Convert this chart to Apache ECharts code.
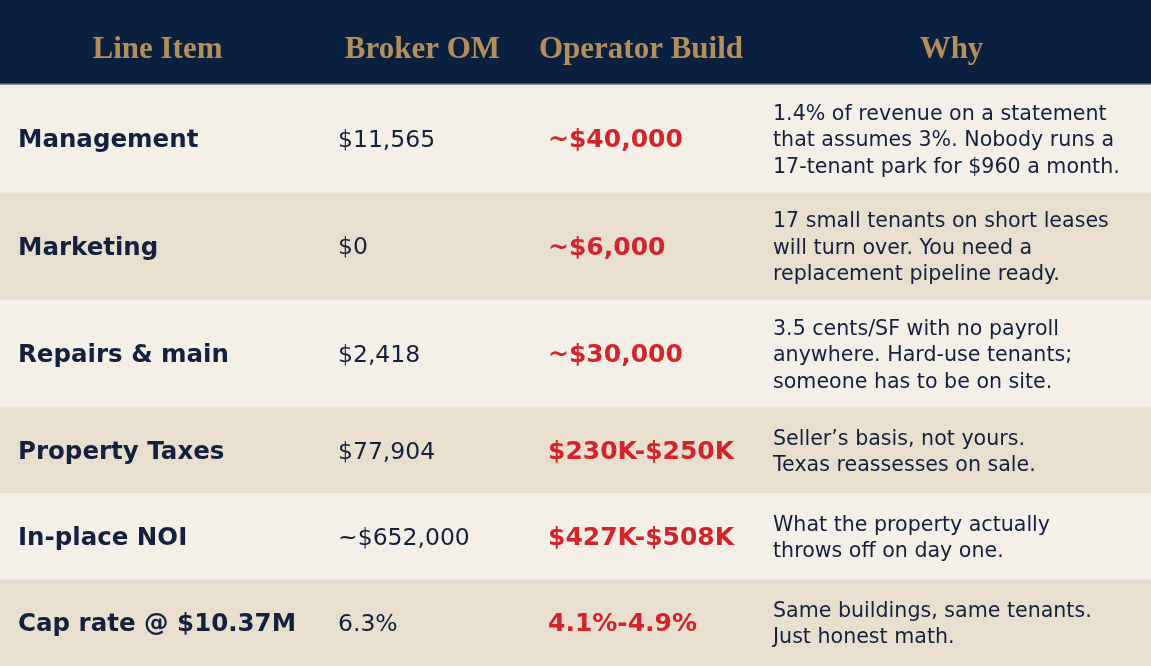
<!DOCTYPE html>
<html>
<head>
<meta charset="utf-8">
<script src="https://cdn.jsdelivr.net/npm/echarts@6/dist/echarts.min.js"></script>
<style>
  html, body { margin: 0; padding: 0; background: #f4efe7; }
  #chart { width: 1151px; height: 666px; }
</style>
</head>
<body>
<div id="chart"></div>
<script>
// table content
const headers = ['Line Item', 'Broker OM', 'Operator Build', 'Why'];
const lineItems = ['Management', 'Marketing', 'Repairs & main', 'Property Taxes', 'In-place NOI', 'Cap rate @ $10.37M'];
const brokerOM = ['$11,565', '$0', '$2,418', '$77,904', '~$652,000', '6.3%'];
const operatorBuild = ['~$40,000', '~$6,000', '~$30,000', '$230K-$250K', '$427K-$508K', '4.1%-4.9%'];
const why = [
  ['1.4% of revenue on a statement', 'that assumes 3%. Nobody runs a', '17-tenant park for $960 a month.'],
  ['17 small tenants on short leases', 'will turn over. You need a', 'replacement pipeline ready.'],
  ['3.5 cents/SF with no payroll', 'anywhere. Hard-use tenants;', 'someone has to be on site.'],
  ['Seller\u2019s basis, not yours.', 'Texas reassesses on sale.'],
  ['What the property actually', 'throws off on day one.'],
  ['Same buildings, same tenants.', 'Just honest math.']
];

// layout (in axis units = px)
const W = 1151, H = 666;
const colEdges = [0, 315, 530, 752, W];
const colPad = [18, 23, 18, 21];
const headerH = 85;
const rowBase = 43, rowPerLine = 21.5;

document.addEventListener('DOMContentLoaded', function() {
  renderTable();
});

function renderTable() {
  const chart = echarts.init(document.getElementById('chart'));

  // row bands from line counts
  let y = headerH;
  const rows = lineItems.map((name, i) => {
    const h = rowBase + rowPerLine * why[i].length;
    const item = [i, y, y + h];
    y += h;
    return item;
  });
  // stretch last row to bottom
  rows[rows.length - 1][2] = H;

  const navy = '#13213f';
  const sans = '"DejaVu Sans", sans-serif';

  const option = {
    animation: false,
    backgroundColor: '#f4efe7',
    grid: { left: 0, right: 0, top: 0, bottom: 0 },
    xAxis: { type: 'value', min: 0, max: W, show: false },
    yAxis: { type: 'value', min: 0, max: H, inverse: true, show: false },
    series: [
      {
        type: 'custom',
        silent: true,
        data: [[0]],
        renderItem: function(params, api) {
          const tl = api.coord([0, 0]);
          const br = api.coord([W, headerH]);
          const children = [
            { type: 'rect', shape: { x: tl[0], y: tl[1], width: br[0] - tl[0], height: br[1] - tl[1] }, style: { fill: '#0b1f3f' } },
            { type: 'rect', shape: { x: tl[0], y: br[1] - 1.5, width: br[0] - tl[0], height: 1.5 }, style: { fill: '#8c8c8c' } }
          ];
          headers.forEach((t, c) => {
            const cx = api.coord([(colEdges[c] + colEdges[c + 1]) / 2, headerH / 2])[0];
            children.push({
              type: 'text',
              style: {
                x: cx, y: (tl[1] + br[1]) / 2 + 7, text: t,
                fill: '#b38f5a', font: 'bold 31px "Liberation Serif", serif',
                align: 'center', verticalAlign: 'middle'
              }
            });
          });
          return { type: 'group', children: children };
        }
      },
      {
        type: 'custom',
        silent: true,
        data: rows,
        renderItem: function(params, api) {
          const i = api.value(0);
          const tl = api.coord([0, api.value(1)]);
          const br = api.coord([W, api.value(2)]);
          const midY = (tl[1] + br[1]) / 2 + 2;
          const xAt = c => api.coord([colEdges[c] + colPad[c], 0])[0];
          const children = [
            { type: 'rect', shape: { x: tl[0], y: tl[1], width: br[0] - tl[0], height: br[1] - tl[1] },
              style: { fill: i % 2 === 0 ? '#f4efe7' : '#e9dfcf' } },
            { type: 'text', style: { x: xAt(0), y: midY, text: lineItems[i], fill: navy,
              font: 'bold 24.5px ' + sans, verticalAlign: 'middle' } },
            { type: 'text', style: { x: xAt(1), y: midY, text: brokerOM[i], fill: navy,
              font: '23.5px ' + sans, verticalAlign: 'middle' } },
            { type: 'text', style: { x: xAt(2), y: midY, text: operatorBuild[i], fill: '#d3232b',
              font: 'bold 25px ' + sans, verticalAlign: 'middle' } },
            { type: 'text', style: { x: xAt(3), y: midY, text: why[i].join('\n'), fill: navy,
              font: '20.6px ' + sans, lineHeight: 26.5, verticalAlign: 'middle' } }
          ];
          return { type: 'group', children: children };
        }
      }
    ]
  };
  chart.setOption(option);
}
</script>
</body>
</html>
